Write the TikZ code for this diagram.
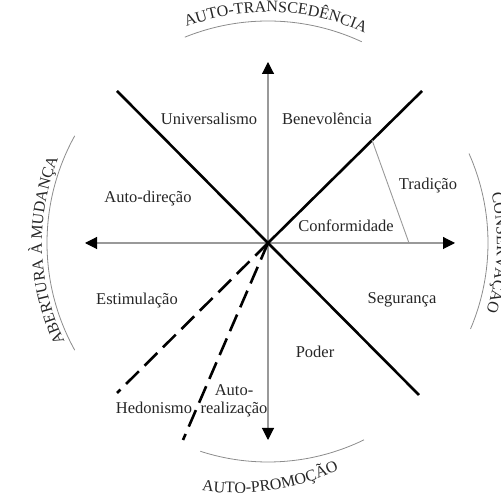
\documentclass[tikz,border=0pt]{standalone}
\usepackage{fontspec}
\setmainfont{Liberation Serif}
\usetikzlibrary{arrows.meta,decorations.text}
\newcommand{\arcfnt}{\fontsize{16}{18}\selectfont\color{black!85}}
\begin{document}
\begin{tikzpicture}[x=1pt,y=1pt,
  lbl/.style={font=\fontsize{16.5}{18}\selectfont, text=black!85, inner sep=0pt, align=center},
  axisline/.style={draw=black!40, line width=1.1pt, -{Triangle[color=black,length=12pt,width=12pt]}},
  divider/.style={draw=black, line width=2.6pt},
  dashdiv/.style={draw=black, line width=2.6pt, dash pattern=on 18pt off 8pt},
  thinline/.style={draw=black!40, line width=0.9pt},
  ring/.style={draw=black!45, line width=0.8pt}]
\useasboundingbox (0,0) rectangle (501,495);
% centre and ends
\coordinate (C) at (268,252);
\coordinate (AT) at (268,433);
\coordinate (AB) at (268,55);
\coordinate (AL) at (85,252);
\coordinate (AR) at (455,252);
\coordinate (NE) at (422,404);
\coordinate (NW) at (117,404);
\coordinate (SE) at (419,100);
\coordinate (D1) at (117,102);
\coordinate (D2) at (183,55);
\coordinate (TR1) at (372,355);
\coordinate (TR2) at (409,252);
% axes
\draw[axisline] (C) -- (AT);
\draw[axisline] (C) -- (AB);
\draw[axisline] (C) -- (AL);
\draw[axisline] (C) -- (AR);
% dividers
\draw[divider] (NW) -- (SE);
\draw[divider] (C) -- (NE);
\draw[dashdiv] (C) -- (D1);
\draw[dashdiv] (C) -- (D2);
\draw[thinline] (TR1) -- (TR2);
% labels
\node[lbl] (univ) at (209,376) {Universalismo};
\node[lbl] (bene) at (327,376) {Benevolência};
\node[lbl] (autod) at (148,296) {Auto-direção};
\node[lbl] (trad) at (428,309) {Tradição};
\node[lbl] (conf) at (346,269) {Conformidade};
\node[lbl] (estim) at (137,194) {Estimulação};
\node[lbl] (segur) at (402,195) {Segurança};
\node[lbl] (poder) at (315,143) {Poder};
\node[lbl] (hedon) at (154,87) {Hedonismo};
\node[lbl] (autor) at (234,94) {Auto-\\realização};
% rings and curved titles
\begin{scope}[shift={(C)}]
  \draw[ring] (65:222) arc[start angle=65, end angle=112, radius=222];
  \draw[ring] (151:221) arc[start angle=151, end angle=209, radius=221];
  \draw[ring] (252:219) arc[start angle=252, end angle=296, radius=219];
  \draw[ring] (-23:220) arc[start angle=-23, end angle=24, radius=220];
  \path[decorate, decoration={text along path, text align=center,
     text={|\arcfnt|AUTO-TRANSCEDÊNCIA}}]
     (118:231) arc[start angle=118, end angle=58, radius=231];
  \path[decorate, decoration={text along path, text align=center,
     text={|\arcfnt|ABERTURA À MUDANÇA}}]
     (212:226) arc[start angle=212, end angle=152, radius=226];
  \path[decorate, decoration={text along path, text align=center,
     text={|\arcfnt|CONSERVAÇÃO}}]
     (28:229) arc[start angle=28, end angle=-33, radius=229];
\end{scope}
\begin{scope}[shift={(235,251)}]
  \path[decorate, decoration={text along path, text align=center,
     text={|\arcfnt|AUTO-PROMOÇÃO}}]
     (258:249) arc[start angle=258, end angle=299, radius=249];
\end{scope}
\end{tikzpicture}
\end{document}
